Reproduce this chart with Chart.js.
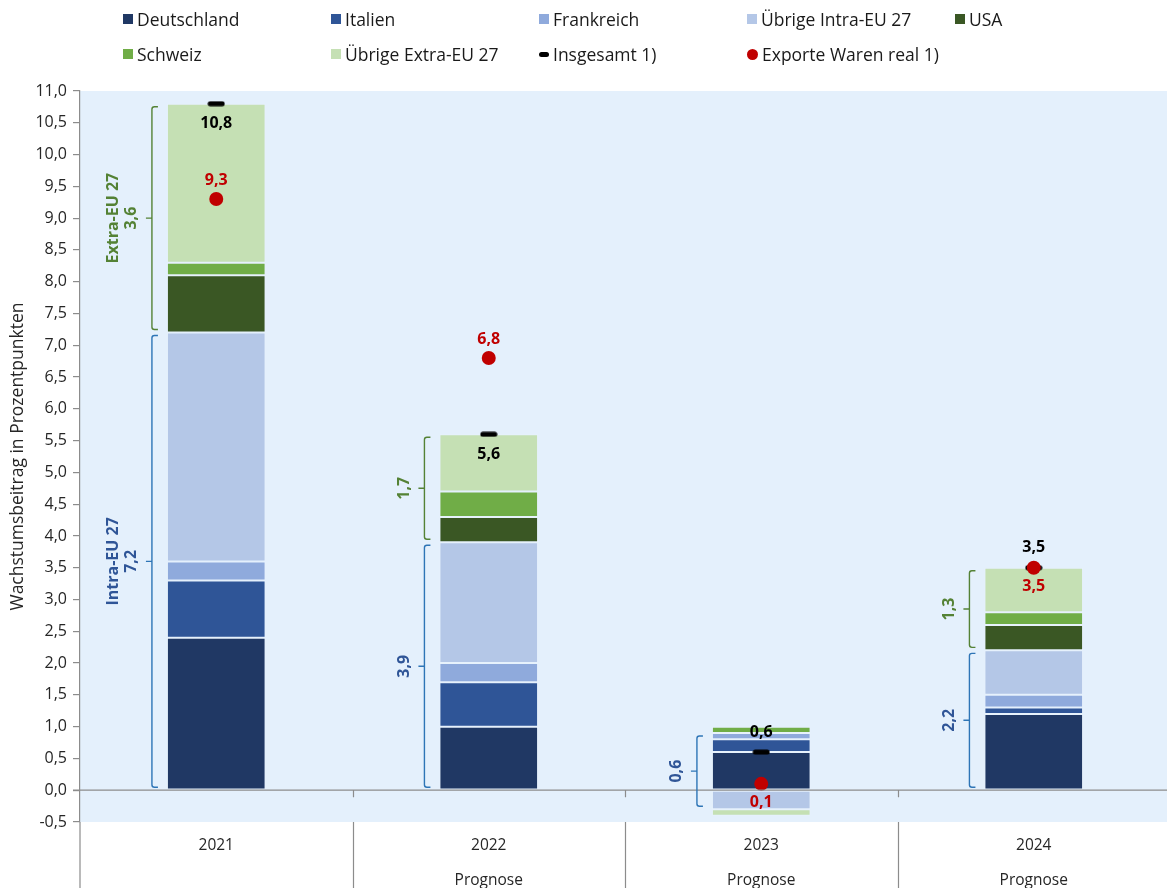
<!DOCTYPE html>
<html lang="de">
<head>
<meta charset="utf-8">
<title>Wachstumsbeiträge zu den Exporten</title>
<script src="https://cdn.jsdelivr.net/npm/chart.js@4/dist/chart.umd.min.js"></script>
<style>
  html, body { margin: 0; padding: 0; background: #ffffff; overflow: hidden; }
  #wrap { position: relative; width: 1180px; height: 888px; }
  #chart { position: absolute; left: 0; top: 0; }
  #legend { position: absolute; left: 0; top: 0; width: 1180px; height: 80px;
            font-family: "Open Sans", sans-serif; font-size: 17.5px; color: #1a1a1a; }
  .item { position: absolute; display: flex; align-items: center; white-space: nowrap; transform: translateY(-50%); }
  .sw { width: 10px; height: 10px; margin-right: 4px; flex: none; }
  .dash { width: 10px; height: 5px; border-radius: 3px; background: #000; margin-right: 4px; flex: none; }
  .dot { width: 11px; height: 11px; border-radius: 50%; background: #c00000; margin-right: 4px; flex: none; }
</style>
</head>
<body>
<div id="wrap">
  <canvas id="chart" width="1180" height="888"></canvas>
  <div id="legend"></div>
</div>
<script>
// Categories
const years = ['2021', '2022', '2023', '2024'];
const subLabels = ['', 'Prognose', 'Prognose', 'Prognose'];

// Growth contributions in percentage points, by destination
const deutschland  = [2.4, 1.0, 0.6, 1.2];
const italien      = [0.9, 0.7, 0.2, 0.1];
const frankreich   = [0.3, 0.3, 0.1, 0.2];
const uebrigeIntra = [3.6, 1.9, -0.3, 0.7];
const usa          = [0.9, 0.4, 0.0, 0.4];
const schweiz      = [0.2, 0.4, 0.1, 0.2];
const uebrigeExtra = [2.5, 0.9, -0.1, 0.7];

// Totals
const insgesamt    = [10.8, 5.6, 0.6, 3.5];
const exporteReal  = [9.3, 6.8, 0.1, 3.5];

// Y axis range and step
const yMin = -0.5;
const yMax = 11.0;
const yStep = 0.5;

const fmt = v => v.toFixed(1).replace('.', ',');
const FONT = '"Open Sans", sans-serif';

// Black rounded dash used as the marker of the total
function dashMarker() {
  const c = document.createElement('canvas');
  c.width = 18; c.height = 6;
  const g = c.getContext('2d');
  g.fillStyle = '#000000';
  g.beginPath();
  g.moveTo(3, 0.5); g.lineTo(15, 0.5);
  g.arc(15, 3, 2.5, -Math.PI / 2, Math.PI / 2);
  g.lineTo(3, 5.5);
  g.arc(3, 3, 2.5, Math.PI / 2, Math.PI * 1.5);
  g.closePath(); g.fill();
  return c;
}

function barSet(label, data, color, group) {
  return {
    type: 'bar', label, data, group,
    backgroundColor: color,
    borderColor: 'rgba(255,255,255,0.14)',
    borderWidth: 1,
    borderSkipped: false,
    stack: 'regions',
    order: 2,
    categoryPercentage: 1.0,
    barPercentage: 0.362
  };
}

const datasets = [
  barSet('Deutschland', deutschland, '#203864', 'intra'),
  barSet('Italien', italien, '#2f5597', 'intra'),
  barSet('Frankreich', frankreich, '#8faadc', 'intra'),
  barSet('Übrige Intra-EU 27', uebrigeIntra, '#b4c7e7', 'intra'),
  barSet('USA', usa, '#3a5724', 'extra'),
  barSet('Schweiz', schweiz, '#70ad47', 'extra'),
  barSet('Übrige Extra-EU 27', uebrigeExtra, '#c5e0b4', 'extra'),
  {
    type: 'line', label: 'Insgesamt 1)', data: insgesamt, stack: 'total', order: 1,
    showLine: false, pointStyle: dashMarker(), pointRadius: 9,
    backgroundColor: '#000000', borderColor: '#000000',
    valueLabel: { color: '#000000', side: ['below', 'below', 'above', 'above'], offset: 20 }
  },
  {
    type: 'line', label: 'Exporte Waren real 1)', data: exporteReal, stack: 'exports', order: 0,
    showLine: false, pointStyle: 'circle', pointRadius: 7, borderWidth: 0,
    backgroundColor: '#c00000', borderColor: '#c00000',
    valueLabel: { color: '#c00000', side: ['above', 'above', 'below', 'below'], offset: 19 }
  }
];

// Plot background
const plotBackground = {
  id: 'plotBackground',
  beforeDraw(chart) {
    const { ctx, chartArea: a } = chart;
    ctx.save();
    ctx.fillStyle = '#e4f0fc';
    ctx.fillRect(a.left, a.top, a.right - a.left, a.bottom - a.top);
    ctx.restore();
  }
};

// Zero line, category dividers below the plot and the extended value axis
const axisLines = {
  id: 'axisLines',
  afterDatasetsDraw(chart) {
    const { ctx, chartArea: a, scales: { y } } = chart;
    const y0 = y.getPixelForValue(0);
    const n = chart.data.labels.length;
    const w = (a.right - a.left) / n;
    ctx.save();
    ctx.strokeStyle = '#8c8c8c';
    ctx.lineWidth = 1.2;
    ctx.beginPath();
    ctx.moveTo(a.left - 7, y0); ctx.lineTo(a.right, y0);
    ctx.moveTo(a.left, a.bottom); ctx.lineTo(a.left, chart.height);
    for (let i = 1; i <= n; i++) {
      const x = Math.round(a.left + i * w) + 0.5;
      ctx.moveTo(x, y0); ctx.lineTo(x, y0 + 7);
      ctx.moveTo(x, a.bottom); ctx.lineTo(x, chart.height);
    }
    ctx.stroke();
    ctx.restore();
  }
};

// Braces beside each bar summing the Intra-EU and Extra-EU contributions
const groupBraces = {
  id: 'groupBraces',
  afterDatasetsDraw(chart, args, opts) {
    const { ctx, scales: { y } } = chart;
    const firstBar = chart.getDatasetMeta(0).data;
    chart.data.labels.forEach((_, i) => {
      // walk the stack the way the bars are drawn
      const span = {};
      let posAcc = 0, negAcc = 0;
      chart.data.datasets.forEach(ds => {
        if (ds.type !== 'bar') return;
        const v = ds.data[i];
        const s = span[ds.group] || (span[ds.group] = { hi: -Infinity, lo: Infinity, net: 0 });
        s.net += v;
        if (v === 0) return;
        let a, b;
        if (v > 0) { a = posAcc; b = posAcc + v; posAcc = b; }
        else { a = negAcc; b = negAcc + v; negAcc = b; }
        s.hi = Math.max(s.hi, a, b);
        s.lo = Math.min(s.lo, a, b);
      });
      opts.groups.forEach(g => {
        const s = span[g.key];
        if (!s || Math.abs(s.net) < 0.05) return;
        const bar = firstBar[i];
        const xb = bar.x - bar.width / 2 - 15;
        const top = y.getPixelForValue(s.hi) + 3;
        const bot = y.getPixelForValue(s.lo) - 3;
        const mid = (top + bot) / 2;
        const r = 2.5;
        ctx.save();
        ctx.strokeStyle = g.lineColor;
        ctx.lineWidth = 1.4;
        ctx.beginPath();
        ctx.moveTo(xb + 6, top);
        ctx.lineTo(xb + r, top);
        ctx.arcTo(xb, top, xb, top + r, r);
        ctx.lineTo(xb, bot - r);
        ctx.arcTo(xb, bot, xb + r, bot, r);
        ctx.lineTo(xb + 6, bot);
        ctx.moveTo(xb, mid); ctx.lineTo(xb - 6, mid);
        ctx.stroke();
        ctx.translate(xb - 20, mid);
        ctx.rotate(-Math.PI / 2);
        ctx.fillStyle = g.textColor;
        ctx.font = 'bold 16px ' + FONT;
        ctx.textAlign = 'center';
        ctx.textBaseline = 'middle';
        ctx.fillText(fmt(s.net), 0, 0);
        if (i === 0) ctx.fillText(g.name, 0, -18);
        ctx.restore();
      });
    });
  }
};

// Value labels beside the total and export markers
const markerLabels = {
  id: 'markerLabels',
  afterDatasetsDraw(chart) {
    const { ctx } = chart;
    chart.data.datasets.forEach((ds, di) => {
      if (!ds.valueLabel) return;
      const lab = ds.valueLabel;
      chart.getDatasetMeta(di).data.forEach((pt, i) => {
        const dy = lab.side[i] === 'above' ? -lab.offset : lab.offset;
        ctx.save();
        ctx.fillStyle = lab.color;
        ctx.font = 'bold 16px ' + FONT;
        ctx.textAlign = 'center';
        ctx.textBaseline = 'middle';
        ctx.fillText(fmt(ds.data[i]), pt.x, pt.y + dy);
        ctx.restore();
      });
    });
  }
};

const chart = new Chart(document.getElementById('chart'), {
  data: {
    labels: years.map((yr, i) => [yr, subLabels[i]]),
    datasets
  },
  plugins: [plotBackground, axisLines, groupBraces, markerLabels],
  options: {
    responsive: false,
    animation: false,
    devicePixelRatio: 1,
    layout: { padding: { top: 91, right: 5, left: 0, bottom: 0 } },
    plugins: {
      legend: { display: false },
      tooltip: { enabled: false },
      groupBraces: {
        groups: [
          { key: 'intra', name: 'Intra-EU 27', lineColor: '#2e75b6', textColor: '#2f5597' },
          { key: 'extra', name: 'Extra-EU 27', lineColor: '#548235', textColor: '#548235' }
        ]
      }
    },
    scales: {
      x: {
        type: 'category',
        offset: true,
        grid: { display: false, drawTicks: false },
        border: { display: false },
        ticks: {
          color: '#262626',
          font: { family: FONT, size: 15.5, lineHeight: 2.26 },
          padding: 6,
          maxRotation: 0
        },
        afterFit(scale) { scale.height = 66; }
      },
      y: {
        stacked: true,
        min: yMin,
        max: yMax,
        ticks: {
          stepSize: yStep,
          color: '#262626',
          font: { family: FONT, size: 16 },
          padding: 6,
          callback: v => fmt(v)
        },
        grid: { drawOnChartArea: false, drawTicks: true, tickLength: 7, color: '#8c8c8c', lineWidth: 1.2 },
        border: { display: true, color: '#8c8c8c', width: 1.2 },
        title: {
          display: true,
          text: 'Wachstumsbeitrag in Prozentpunkten',
          color: '#262626',
          font: { family: FONT, size: 17.5 },
          padding: { top: 8, bottom: 0 }
        },
        afterFit(scale) { scale.width = 80; }
      }
    }
  }
});

// Legend laid out in a fixed grid of columns
(function buildLegend() {
  const box = document.getElementById('legend');
  const colLeft = 123, colStep = 208, rowY = [19, 54], perRow = 5;
  chart.data.datasets.forEach((ds, i) => {
    const el = document.createElement('div');
    el.className = 'item';
    el.style.left = (colLeft + (i % perRow) * colStep) + 'px';
    el.style.top = rowY[Math.floor(i / perRow)] + 'px';
    const mark = document.createElement('span');
    if (ds.type === 'bar') { mark.className = 'sw'; mark.style.background = ds.backgroundColor; }
    else if (ds.pointStyle === 'circle') { mark.className = 'dot'; }
    else { mark.className = 'dash'; }
    el.appendChild(mark);
    el.appendChild(document.createTextNode(ds.label));
    box.appendChild(el);
  });
})();
</script>
</body>
</html>
